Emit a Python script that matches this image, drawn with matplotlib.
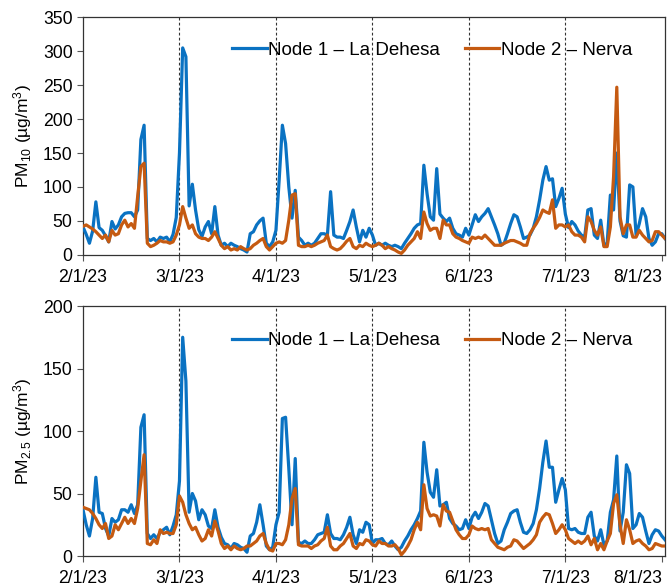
import numpy as np
import matplotlib
matplotlib.use("Agg")
import matplotlib.pyplot as plt

plt.rcParams['font.family'] = ['Liberation Sans', 'DejaVu Sans']
plt.rcParams['mathtext.default'] = 'regular'

# daily values (day 0 = 2/1/23)
pm10_node1 = [41, 30, 17, 35, 78, 40, 36, 28, 19, 49, 38, 44, 56, 61, 62, 62, 56, 66, 170, 191,
              24, 21, 24, 19, 26, 24, 26, 19, 30, 55, 150, 305, 292, 72, 104, 66, 37, 27, 41, 49,
              31, 71, 29, 14, 17, 12, 17, 14, 12, 9, 7, 4, 31, 34, 44, 50, 54, 17, 12, 19,
              36, 110, 191, 164, 100, 54, 95, 26, 21, 14, 17, 14, 17, 24, 31, 31, 29, 93, 29, 26,
              26, 24, 36, 49, 66, 41, 19, 36, 26, 39, 29, 14, 17, 14, 17, 14, 12, 14, 12, 9,
              17, 24, 31, 39, 44, 46, 132, 90, 56, 51, 127, 60, 54, 49, 54, 39, 31, 29, 26, 39,
              29, 44, 59, 49, 56, 61, 68, 56, 44, 31, 14, 17, 31, 46, 59, 56, 41, 24, 26, 29,
              39, 56, 81, 110, 130, 110, 112, 71, 83, 98, 60, 40, 49, 44, 35, 29, 26, 66, 68, 29,
              24, 51, 14, 17, 88, 66, 150, 50, 28, 26, 103, 100, 29, 46, 68, 56, 24, 14, 19, 31,
              31, 24]
pm10_node2 = [42, 44, 41, 38, 34, 29, 24, 29, 19, 36, 29, 31, 44, 51, 41, 46, 39, 86, 130, 135,
              17, 12, 14, 17, 21, 19, 19, 17, 19, 29, 44, 71, 54, 39, 44, 31, 26, 24, 24, 21,
              26, 34, 24, 14, 9, 12, 7, 9, 7, 12, 9, 7, 9, 14, 17, 21, 24, 12, 7, 12,
              17, 19, 17, 21, 51, 88, 90, 14, 12, 12, 14, 12, 14, 17, 19, 21, 29, 12, 9, 7,
              9, 14, 20, 24, 12, 9, 14, 12, 17, 14, 12, 14, 17, 14, 9, 12, 9, 7, 4, 2,
              7, 14, 19, 24, 34, 24, 63, 46, 36, 39, 39, 24, 51, 44, 44, 31, 26, 24, 21, 19,
              17, 26, 24, 26, 24, 29, 24, 19, 14, 14, 14, 17, 19, 21, 21, 19, 17, 14, 14, 31,
              39, 46, 55, 66, 63, 61, 81, 39, 44, 44, 41, 44, 34, 29, 29, 26, 19, 56, 49, 36,
              29, 41, 12, 12, 41, 115, 247, 56, 31, 44, 44, 26, 26, 36, 29, 24, 19, 21, 34, 34,
              29, 24]
pm25_node1 = [37, 25, 16, 30, 63, 35, 34, 22, 16, 30, 27, 29, 37, 37, 35, 41, 34, 41, 103, 113,
              18, 14, 17, 14, 19, 21, 23, 17, 24, 33, 60, 175, 140, 35, 50, 44, 29, 37, 33, 24,
              22, 37, 23, 15, 10, 9, 6, 10, 9, 7, 6, 3, 16, 18, 27, 41, 25, 8, 5, 7,
              25, 35, 110, 111, 70, 25, 78, 11, 10, 12, 10, 10, 13, 17, 18, 19, 33, 18, 14, 14,
              13, 17, 23, 31, 17, 10, 21, 19, 27, 25, 10, 13, 13, 14, 10, 9, 12, 8, 5, 7,
              12, 16, 21, 25, 30, 36, 91, 67, 51, 47, 69, 40, 41, 43, 30, 26, 24, 21, 22, 29,
              22, 31, 35, 30, 35, 42, 40, 29, 18, 10, 12, 21, 27, 34, 36, 37, 27, 19, 18, 21,
              26, 37, 54, 75, 92, 71, 71, 43, 53, 62, 53, 22, 21, 22, 19, 18, 18, 31, 35, 16,
              12, 21, 9, 12, 35, 45, 80, 20, 35, 73, 66, 22, 25, 34, 31, 20, 10, 17, 21, 20,
              16, 13]
pm25_node2 = [39, 38, 37, 34, 30, 25, 22, 26, 14, 16, 25, 21, 26, 31, 26, 30, 26, 38, 60, 81,
              10, 9, 13, 10, 21, 18, 19, 18, 18, 25, 48, 43, 33, 26, 21, 23, 17, 12, 14, 21,
              16, 28, 20, 10, 6, 8, 5, 8, 6, 5, 6, 8, 8, 10, 12, 16, 18, 10, 5, 4,
              10, 10, 9, 13, 25, 46, 54, 9, 8, 8, 8, 6, 8, 9, 12, 14, 23, 8, 5, 5,
              8, 10, 14, 18, 8, 6, 10, 9, 13, 12, 9, 8, 12, 10, 10, 8, 8, 9, 6, 1,
              4, 8, 13, 21, 27, 21, 57, 38, 32, 33, 32, 24, 41, 36, 35, 28, 21, 17, 14, 14,
              17, 24, 22, 21, 22, 21, 22, 13, 10, 7, 6, 5, 7, 8, 13, 12, 9, 6, 8, 10,
              13, 17, 27, 31, 34, 33, 26, 18, 21, 25, 21, 14, 12, 10, 12, 10, 12, 16, 9, 14,
              5, 10, 5, 12, 18, 42, 49, 25, 10, 29, 21, 10, 12, 13, 10, 8, 5, 6, 10, 9,
              8, 8]

tick_labels = ['2/1/23', '3/1/23', '4/1/23', '5/1/23', '6/1/23', '7/1/23', '8/1/23']
month_lines = [30, 60, 90, 120, 150]

blue = '#0A72C2'
orange = '#C55A11'

fig = plt.figure(figsize=(6.71, 5.87), dpi=100)
ax1 = fig.add_axes([0.1237, 0.566, 0.8674, 0.4044])
ax2 = fig.add_axes([0.1237, 0.0528, 0.8674, 0.4259])

panels = [
    (ax1, pm10_node1, pm10_node2, 350, 50, r'PM$_{10}$ (µg/m$^3$)'),
    (ax2, pm25_node1, pm25_node2, 200, 50, r'PM$_{2.5}$ (µg/m$^3$)'),
]

for ax, n1, n2, ymax, ystep, ylabel in panels:
    x = np.arange(len(n1))
    for m in month_lines:
        ax.axvline(m, color='#333333', lw=0.8, ls=(0, (2.5, 2)), zorder=1)
    ax.plot(x, n1, color=blue, lw=2.3, label='Node 1 – La Dehesa', zorder=3)
    ax.plot(x, n2, color=orange, lw=2.3, label='Node 2 – Nerva', zorder=4)
    ax.set_xlim(0, 181)
    ax.set_ylim(0, ymax)
    ax.set_yticks(np.arange(0, ymax + 1, ystep))
    ax.set_xticks(np.arange(0, 181, 30))
    ax.set_xticklabels(tick_labels)
    ax.tick_params(labelsize=12.7, direction='out', length=4, width=0.8, color='#555555')
    ax.tick_params(axis='x', pad=6)
    # last date label sits inside the right edge, as in the original
    last = ax.get_xticklabels()[-1]
    last.set_horizontalalignment('right')
    last.set_x(181)
    for s in ax.spines.values():
        s.set_linewidth(0.9)
        s.set_color('#333333')
    ax.set_ylabel(ylabel, fontsize=12.5, labelpad=6)
    ax.legend(loc='center', bbox_to_anchor=(0.6, 0.862), ncol=2, frameon=False,
              fontsize=13.5, handlelength=1.85, handletextpad=0.1, columnspacing=1.3,
              borderaxespad=0)

fig.savefig('out.png', dpi=100)
